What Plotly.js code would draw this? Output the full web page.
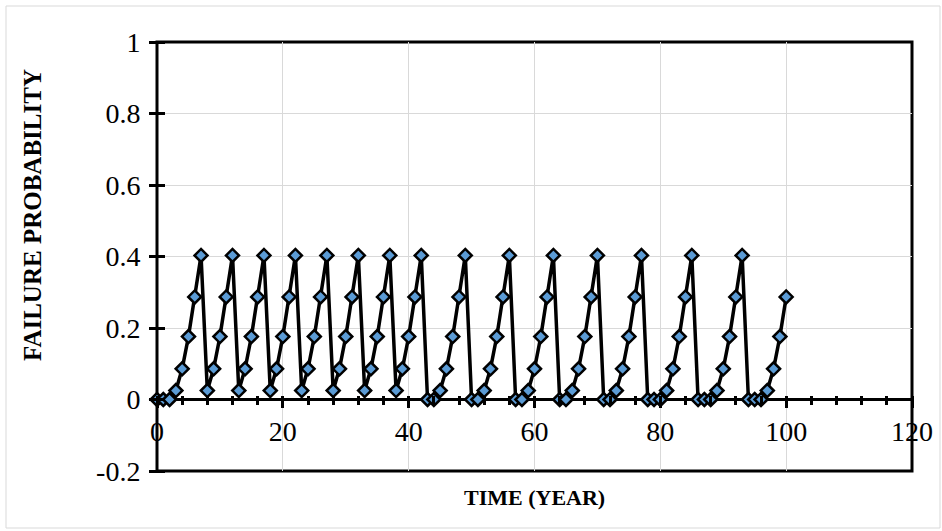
<!DOCTYPE html>
<html>
<head>
<meta charset="utf-8">
<script src="https://cdn.plot.ly/plotly-3.0.1.min.js"></script>
<style>html,body{margin:0;padding:0;background:#fff;}#chart{width:942px;height:531px;}</style>
</head>
<body>
<div id="chart"></div>
<script>
// Time (years)
const years = [0,1,2,3,4,5,6,7,8,9,10,11,12,13,14,15,16,17,18,19,20,
  21,22,23,24,25,26,27,28,29,30,31,32,33,34,35,36,37,38,39,40,
  41,42,43,44,45,46,47,48,49,50,51,52,53,54,55,56,57,58,59,60,
  61,62,63,64,65,66,67,68,69,70,71,72,73,74,75,76,77,78,79,80,
  81,82,83,84,85,86,87,88,89,90,91,92,93,94,95,96,97,98,99,100];
// Failure probability
const failureProb = [
  0,0,0,0.025,0.086,0.176,0.287,0.403,
  0.025,0.086,0.176,0.287,0.403,
  0.025,0.086,0.176,0.287,0.403,
  0.025,0.086,0.176,0.287,0.403,
  0.025,0.086,0.176,0.287,0.403,
  0.025,0.086,0.176,0.287,0.403,
  0.025,0.086,0.176,0.287,0.403,
  0.025,0.086,0.176,0.287,0.403,
  0,0,0.025,0.086,0.176,0.287,0.403,
  0,0,0.025,0.086,0.176,0.287,0.403,
  0,0,0.025,0.086,0.176,0.287,0.403,
  0,0,0.025,0.086,0.176,0.287,0.403,
  0,0,0.025,0.086,0.176,0.287,0.403,
  0,0,0,0.025,0.086,0.176,0.287,0.403,
  0,0,0,0.025,0.086,0.176,0.287,0.403,
  0,0,0,0.025,0.086,0.176,0.287];
const xTickVals = [0,20,40,60,80,100,120];
const yTickVals = [-0.2,0,0.2,0.4,0.6,0.8,1];
const yTickText = ['-0.2','0','0.2','0.4','0.6','0.8','1'];
const xTitle = 'TIME (YEAR)';
const yTitle = 'FAILURE PROBABILITY';

const W = 942, H = 531;
const M = {l:157, r:30, t:42, b:60};
const pw = W - M.l - M.r, ph = H - M.t - M.b;
const font = 'Liberation Serif, Times New Roman, serif';
const xr = [0,120], yr = [-0.2,1];
const zeroPos = (0 - yr[0])/(yr[1]-yr[0]);
// tick marks straddle the axis lines: shift the tick origin a few px inside
const xTickShift = 5, yTickShift = 8;

const traces = [
  {x: years, y: failureProb, type:'scatter', mode:'lines+markers',
   line:{color:'#000', width:3.5},
   marker:{symbol:'diamond', size:10, color:'#5B9BD5', line:{color:'#000', width:2.5}},
   showlegend:false, cliponaxis:false}
];

const layout = {
  width: W, height: H,
  margin: M,
  paper_bgcolor:'#fff', plot_bgcolor:'#fff',
  showlegend:false,
  font:{family:font, size:28, color:'#000'},
  xaxis:{range:xr, tickvals:xTickVals, anchor:'free', position:zeroPos + xTickShift/ph,
    ticks:'outside', ticklen:12, tickwidth:3, tickcolor:'#000', ticklabelstandoff:0,
    minor:{dtick:4, tick0:0, ticks:'outside', ticklen:9, tickwidth:3, tickcolor:'#000', showgrid:false},
    showgrid:true, gridcolor:'#d9d9d9', gridwidth:1, zeroline:false, showline:false,
    tickfont:{family:font, size:28, color:'#000'}},
  yaxis:{range:yr, tickvals:yTickVals, ticktext:yTickText, anchor:'free', position:yTickShift/pw,
    ticks:'outside', ticklen:16, tickwidth:3, tickcolor:'#000', ticklabelstandoff:3,
    showgrid:true, gridcolor:'#d9d9d9', gridwidth:1,
    zeroline:true, zerolinecolor:'#000', zerolinewidth:3, showline:false,
    tickfont:{family:font, size:28, color:'#000'}},
  annotations:[
    {text:'<b>'+xTitle+'</b>', xref:'paper', yref:'paper', x:0.5, y:(H-M.b-497)/ph,
     xanchor:'center', yanchor:'middle', showarrow:false, font:{family:font, size:22, color:'#000'}},
    {text:'<b>'+yTitle+'</b>', xref:'paper', yref:'paper', x:(32-M.l)/pw, y:(H-M.b-215)/ph,
     xanchor:'center', yanchor:'middle', textangle:-90, showarrow:false, font:{family:font, size:25, color:'#000'}}
  ],
  shapes:[
    {type:'rect', xref:'paper', yref:'paper',
     x0:(6-M.l)/pw, x1:(940-M.l)/pw, y0:(H-M.b-528)/ph, y1:(H-M.b-6)/ph,
     line:{color:'#d9d9d9', width:1}, fillcolor:'rgba(0,0,0,0)', layer:'below'},
    {type:'rect', xref:'paper', yref:'paper', x0:0, x1:1, y0:0, y1:1,
     line:{color:'#000', width:3}, fillcolor:'rgba(0,0,0,0)', layer:'below'}
  ]
};

Plotly.newPlot('chart', traces, layout, {staticPlot:true, displayModeBar:false});
</script>
</body>
</html>
